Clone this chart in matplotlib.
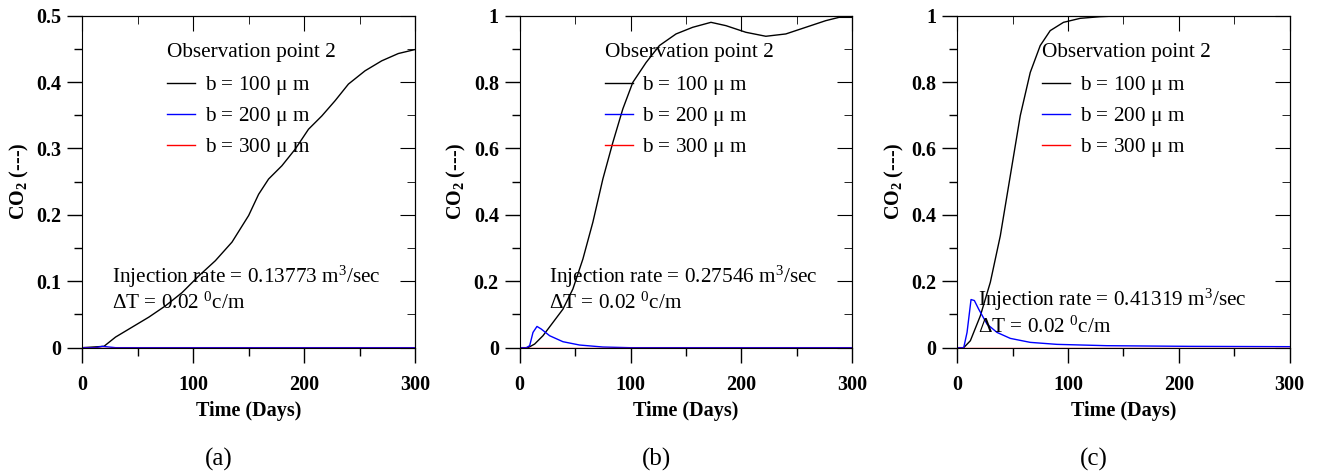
import numpy as np
import matplotlib
matplotlib.use("Agg")
import matplotlib.pyplot as plt
from matplotlib.ticker import MultipleLocator

plt.rcParams['font.family'] = ['Liberation Serif', 'DejaVu Serif']
plt.rcParams['mathtext.fontset'] = 'custom'
plt.rcParams['mathtext.rm'] = 'Liberation Serif'
plt.rcParams['mathtext.bf'] = 'Liberation Serif:bold'
plt.rcParams['mathtext.it'] = 'Liberation Serif:italic'

# panel (a) - injection rate 0.13773
a_t_100 = [0, 19.5, 30, 45, 60, 75, 90, 105, 120, 135, 150, 159, 168, 180, 192, 204, 216, 228, 240, 255, 270, 285, 300]
a_c_100 = [0, 0.002, 0.016, 0.031, 0.046, 0.063, 0.083, 0.108, 0.131, 0.159, 0.199, 0.231, 0.254, 0.274, 0.299,
           0.329, 0.349, 0.372, 0.397, 0.417, 0.432, 0.443, 0.449]
a_t_200 = [0, 12, 18, 24, 30, 300]
a_c_200 = [0, 0, 0.002, 0.001, 0, 0]

# panel (b) - injection rate 0.27546
b_t_100 = [0, 7.5, 13.5, 21, 30, 39, 48, 57, 66, 75, 84, 93, 102, 114, 126, 141, 156, 172.5, 186, 204, 222, 240,
           258, 276, 288, 300]
b_c_100 = [0, 0, 0.011, 0.036, 0.076, 0.116, 0.177, 0.267, 0.378, 0.508, 0.618, 0.719, 0.799, 0.859, 0.91, 0.945,
           0.965, 0.98, 0.97, 0.95, 0.938, 0.945, 0.965, 0.985, 0.995, 0.995]
b_t_200 = [0, 6, 9, 12, 15.6, 19.5, 27, 39, 54, 75, 99, 300]
b_c_200 = [0, 0, 0.006, 0.046, 0.064, 0.056, 0.036, 0.018, 0.008, 0.002, 0, 0]

# panel (c) - injection rate 0.41319
c_t_100 = [0, 6, 12, 21, 30, 39, 48, 57, 66, 75, 84, 96, 111, 129, 150, 300]
c_c_100 = [0, 0, 0.021, 0.096, 0.197, 0.337, 0.518, 0.699, 0.829, 0.91, 0.955, 0.98, 0.992, 0.997, 1.0, 1.0]
c_t_200 = [0, 6, 9, 12.6, 15.6, 19.5, 27, 36, 48, 66, 90, 135, 210, 300]
c_c_200 = [0, 0, 0.046, 0.145, 0.142, 0.116, 0.071, 0.046, 0.028, 0.016, 0.01, 0.006, 0.004, 0.003]

t_300 = [0, 300]
c_300 = [0, 0]

rates = ['0.13773', '0.27546', '0.41319']
panel_tags = ['(a)', '(b)', '(c)']
labels = [r'b = 100 $\mathrm{\mu}$ m', r'b = 200 $\mathrm{\mu}$ m', r'b = 300 $\mathrm{\mu}$ m']

panels = [
    (a_t_100, a_c_100, a_t_200, a_c_200, 0.5, 0.1, 0.05),
    (b_t_100, b_c_100, b_t_200, b_c_200, 1.0, 0.2, 0.1),
    (c_t_100, c_c_100, c_t_200, c_c_200, 1.0, 0.2, 0.1),
]
lefts = [0.0624, 0.394, 0.7256]
note_pos = [(0.089, 0.213, 0.135), (0.089, 0.213, 0.135), (0.063, 0.144, 0.062)]
fs = 15.3

fig = plt.figure(figsize=(13.19, 4.74), dpi=100)

for i, (t1, c1, t2, c2, ymax, ymaj, ymin) in enumerate(panels):
    ax = fig.add_axes([lefts[i], 0.2665, 0.2522, 0.7004])
    l1, = ax.plot(t1, c1, color='black', lw=1)
    l2, = ax.plot(t2, c2, color='blue', lw=1)
    l3, = ax.plot(t_300, c_300, color='red', lw=1)
    ax.set_xlim(0, 300)
    ax.set_ylim(0, ymax)
    ax.xaxis.set_major_locator(MultipleLocator(100))
    ax.xaxis.set_minor_locator(MultipleLocator(50))
    ax.yaxis.set_major_locator(MultipleLocator(ymaj))
    ax.yaxis.set_minor_locator(MultipleLocator(ymin))
    ax.tick_params(which='both', direction='out', top=False, right=False)
    ax.tick_params(which='major', length=11, width=1, labelsize=14.5)
    ax.tick_params(axis='x', which='major', pad=9)
    ax.tick_params(axis='y', which='major', pad=4)
    ax.tick_params(which='minor', length=6, width=1)
    # inward ticks on top and right
    sec_x = ax.secondary_xaxis('top')
    sec_x.xaxis.set_major_locator(MultipleLocator(100))
    sec_x.xaxis.set_minor_locator(MultipleLocator(50))
    sec_x.tick_params(which='both', direction='in', labeltop=False)
    sec_x.tick_params(which='major', length=11)
    sec_x.tick_params(which='minor', length=6)
    sec_y = ax.secondary_yaxis('right')
    sec_y.yaxis.set_major_locator(MultipleLocator(ymaj))
    sec_y.yaxis.set_minor_locator(MultipleLocator(ymin))
    sec_y.tick_params(which='both', direction='in', labelright=False)
    sec_y.tick_params(which='major', length=11)
    sec_y.tick_params(which='minor', length=6)
    ax.yaxis.set_major_formatter(plt.FuncFormatter(lambda v, p: f'{v:g}'))
    for lab in ax.get_xticklabels() + ax.get_yticklabels():
        lab.set_fontweight('bold')
    ax.set_xlabel('Time (Days)', fontsize=14.5, fontweight='bold', labelpad=4)
    ax.set_ylabel(r'CO$_{\mathbf{2}}$ (---)', fontsize=14.5, fontweight='bold', labelpad=4)

    ax.text(0.255, 0.888, 'Observation point 2', transform=ax.transAxes,
            fontsize=fs, va='center', ha='left')
    ax.legend([l1, l2, l3], labels, loc='upper left',
              bbox_to_anchor=(0.255, 0.823), frameon=False, fontsize=fs,
              handlelength=1.32, handletextpad=0.45, labelspacing=0.37,
              borderaxespad=0, borderpad=0)
    nx, ny1, ny2 = note_pos[i]
    ax.text(nx, ny1, 'Injection rate = ' + rates[i] + r' m$^3$/sec', transform=ax.transAxes,
            fontsize=fs, va='center', ha='left')
    ax.text(nx, ny2, r'$\Delta$T = 0.02 $^0$c/m', transform=ax.transAxes,
            fontsize=fs, va='center', ha='left')
    fig.text(lefts[i] + 0.2522 * 0.41, 0.03, panel_tags[i], fontsize=18, ha='center', va='center')

fig.savefig('out.png', dpi=100)
